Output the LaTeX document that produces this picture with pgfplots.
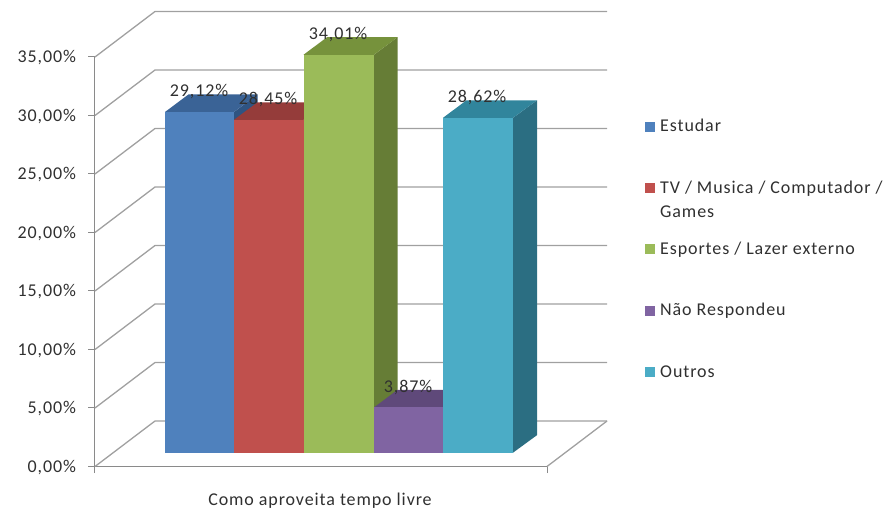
\documentclass[border=0pt]{standalone}
\usepackage{pgfplots}
\pgfplotsset{compat=1.18}
\usepackage{fontspec}
\setmainfont[LetterSpace=5]{Carlito}
\newcommand\chartfont{\fontsize{18}{20}\selectfont}
\definecolor{txt}{HTML}{303030}
\definecolor{gridc}{HTML}{A0A0A0}
\definecolor{axisc}{HTML}{8A8A8A}
\definecolor{blueF}{HTML}{4F81BD}\definecolor{blueT}{HTML}{3A6396}\definecolor{blueS}{HTML}{2F5482}
\definecolor{redF}{HTML}{C0504D}\definecolor{redT}{HTML}{953C3A}\definecolor{redS}{HTML}{7F3230}
\definecolor{greenF}{HTML}{9BBB59}\definecolor{greenT}{HTML}{76923C}\definecolor{greenS}{HTML}{667D36}
\definecolor{purpleF}{HTML}{8064A2}\definecolor{purpleT}{HTML}{5F497A}\definecolor{purpleS}{HTML}{513E6A}
\definecolor{tealF}{HTML}{4BACC6}\definecolor{tealT}{HTML}{31859C}\definecolor{tealS}{HTML}{2B6E82}
\begin{document}
\begin{tikzpicture}[x=1pt,y=1pt]
\begin{axis}[
  scale only axis, width=452pt, height=409.5pt,
  xmin=95, xmax=547, ymin=0, ymax=35,
  clip=false,
  axis x line*=bottom, axis y line*=left,
  axis line style={-, draw=axisc, line width=1pt},
  tick style={draw=axisc, line width=1pt},
  tick align=outside,
  major tick length=6.5pt,
  xtick={95,547}, xticklabels={,},
  ytick={0,5,...,35},
  yticklabel={\pgfmathprintnumber{\tick}\%},
  /pgf/number format/.cd, use comma, fixed, fixed zerofill, precision=2, assume math mode=true,
  /pgfplots/.cd,
  yticklabel style={font=\chartfont, text=txt, anchor=east, xshift=-9pt, yshift=-1pt},
  xlabel={Como aproveita tempo livre},
  every axis x label/.style={at={(axis cs:320,0)}, anchor=base, yshift=-38.5pt, font=\chartfont, text=txt},
  legend cell align=left,
  legend image code/.code={\path[fill=none,draw=none] (0pt,-16pt) rectangle (15pt,-6pt);\fill[#1] (0pt,-16pt) rectangle (10pt,-6pt);},
  legend style={at={(axis cs:642,29.66)}, anchor=north west, draw=none, fill=none,
    font=\chartfont, text=txt, row sep=48pt,
    nodes={text height=8pt, text depth=3pt, inner ysep=0pt, inner xsep=0pt}},
]
% Rear wall gridlines and their slanted returns to the value axis
\addplot[forget plot, gridc, line width=1.3pt] coordinates {(95,0)(155,3.889)(607,3.889)};
\addplot[forget plot, gridc, line width=1.3pt] coordinates {(95,5)(155,8.889)(607,8.889)};
\addplot[forget plot, gridc, line width=1.3pt] coordinates {(95,10)(155,13.889)(607,13.889)};
\addplot[forget plot, gridc, line width=1.3pt] coordinates {(95,15)(155,18.889)(607,18.889)};
\addplot[forget plot, gridc, line width=1.3pt] coordinates {(95,20)(155,23.889)(607,23.889)};
\addplot[forget plot, gridc, line width=1.3pt] coordinates {(95,25)(155,28.889)(607,28.889)};
\addplot[forget plot, gridc, line width=1.3pt] coordinates {(95,30)(155,33.889)(607,33.889)};
\addplot[forget plot, gridc, line width=1.3pt] coordinates {(95,35)(155,38.889)(607,38.889)};
\addplot[forget plot, gridc, line width=1.3pt] coordinates {(547,0)(607,3.889)};

% Estudar
\addplot[forget plot, yshift=13.8pt, fill=blueS, draw=none] coordinates {(234,0)(257.5,1.5)(257.5,30.62)(234,29.12)} -- cycle;
\addplot[forget plot, yshift=13.8pt, fill=blueT, draw=none] coordinates {(165,29.12)(234,29.12)(257.5,30.62)(188.5,30.62)} -- cycle;
\addplot[ybar, bar width=69pt, bar shift=0pt, yshift=13.8pt, fill=blueF, draw=none] coordinates {(199.5,29.12)};
\addlegendentry{Estudar}

% TV / Musica / Computador / Games
\addplot[forget plot, yshift=13.8pt, fill=redS, draw=none] coordinates {(303.5,0)(327,1.5)(327,29.95)(303.5,28.45)} -- cycle;
\addplot[forget plot, yshift=13.8pt, fill=redT, draw=none] coordinates {(234,28.45)(303.5,28.45)(327,29.95)(257.5,29.95)} -- cycle;
\addplot[ybar, bar width=69.5pt, bar shift=0pt, yshift=13.8pt, fill=redF, draw=none] coordinates {(268.75,28.45)};
\addlegendentry{\smash{\parbox[t]{226pt}{\baselineskip=24.5pt TV / Musica / Computador /\\Games}}}

% Esportes / Lazer externo
\addplot[forget plot, yshift=13.8pt, fill=greenS, draw=none] coordinates {(374,0)(397.5,1.5)(397.5,35.51)(374,34.01)} -- cycle;
\addplot[forget plot, yshift=13.8pt, fill=greenT, draw=none] coordinates {(303.5,34.01)(374,34.01)(397.5,35.51)(327,35.51)} -- cycle;
\addplot[ybar, bar width=70.5pt, bar shift=0pt, yshift=13.8pt, fill=greenF, draw=none] coordinates {(338.75,34.01)};
\addlegendentry{Esportes / Lazer externo}

% Nao Respondeu
\addplot[forget plot, yshift=13.8pt, fill=purpleS, draw=none] coordinates {(443,0)(466.5,1.5)(466.5,5.37)(443,3.87)} -- cycle;
\addplot[forget plot, yshift=13.8pt, fill=purpleT, draw=none] coordinates {(374,3.87)(443,3.87)(466.5,5.37)(397.5,5.37)} -- cycle;
\addplot[ybar, bar width=69pt, bar shift=0pt, yshift=13.8pt, fill=purpleF, draw=none] coordinates {(408.5,3.87)};
\addlegendentry{Não Respondeu}

% Outros
\addplot[forget plot, yshift=13.8pt, fill=tealS, draw=none] coordinates {(513,0)(537,1.5)(537,30.12)(513,28.62)} -- cycle;
\addplot[forget plot, yshift=13.8pt, fill=tealT, draw=none] coordinates {(443,28.62)(513,28.62)(537,30.12)(466.5,30.12)} -- cycle;
\addplot[ybar, bar width=70pt, bar shift=0pt, yshift=13.8pt, fill=tealF, draw=none] coordinates {(478,28.62)};
\addlegendentry{Outros}

% Value labels, set above each column's top face
\addplot[forget plot, draw=none, mark=none, point meta=y,
  nodes near coords={\pgfmathprintnumber{\pgfplotspointmeta}\%},
  nodes near coords style={font=\chartfont, text=txt, anchor=center, yshift=34pt, inner sep=0pt}]
  coordinates {(199,29.12)(268,28.45)(338,34.01)(408,3.87)(477,28.62)};
\end{axis}
\useasboundingbox (-95pt,-46.5pt) rectangle (798pt,466.5pt);
\end{tikzpicture}
\end{document}
